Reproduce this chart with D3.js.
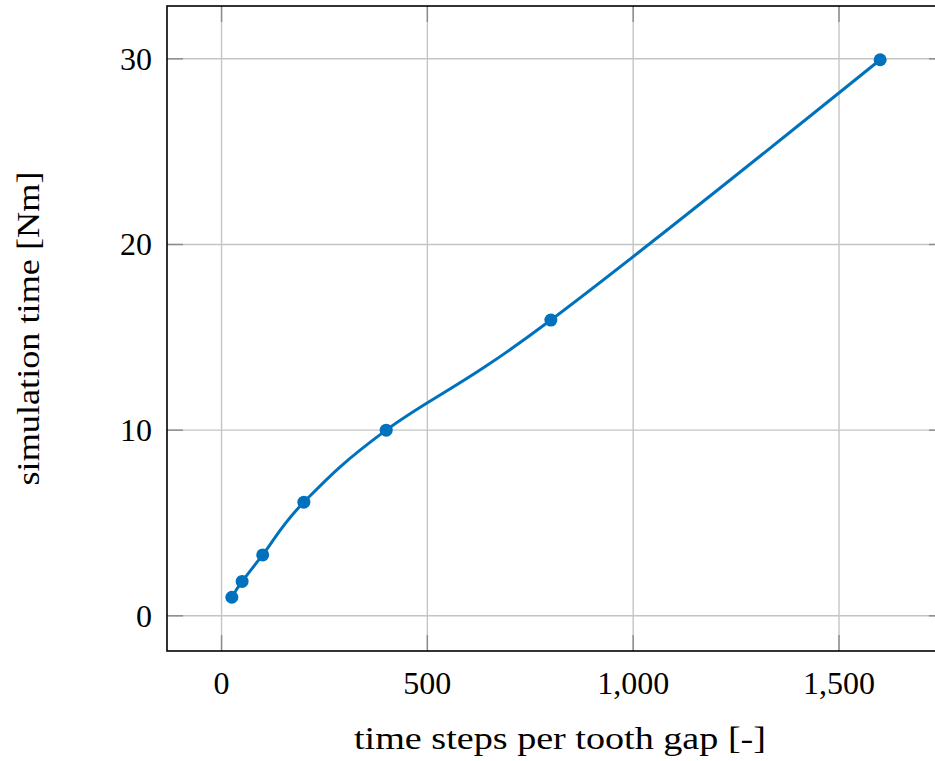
<!DOCTYPE html>
<html><head><meta charset="utf-8">
<script src="https://cdn.jsdelivr.net/npm/d3@7"></script>
<style>body{margin:0;background:#fff}svg{display:block}text{font-family:"Liberation Serif","DejaVu Serif",serif;fill:#000}</style>
</head><body><svg id="c" width="935" height="761"></svg>
<script>
const xValues = [25, 50, 100, 200, 400, 800, 1600];
const yValues = [1.0, 1.85, 3.28, 6.12, 10.0, 15.93, 29.95];
const xTicks = [0, 500, 1000, 1500];
const yTicks = [0, 10, 20, 30];
const xLabel = "time steps per tooth gap [-]";
const yLabel = "simulation time [Nm]";

const svg = d3.select("#c");
const L = 167, T = 6, R = 945, B = 651;
const xr = d3.extent(xValues), yr = d3.extent(yValues);
const xp = (xr[1]-xr[0])*0.1, yp = (yr[1]-yr[0])*0.1;
const x = d3.scaleLinear().domain([xr[0]-xp, xr[1]+xp]).range([L, R]);
const y = d3.scaleLinear().domain([yr[0]-yp, yr[1]+yp]).range([B, T]);

const g = svg.append("g");
// grid
g.selectAll(".gx").data(xTicks).join("line")
  .attr("x1", d=>x(d)).attr("x2", d=>x(d)).attr("y1", T).attr("y2", B)
  .attr("stroke", "#c4c4c4").attr("stroke-width", 1.4);
g.selectAll(".gy").data(yTicks).join("line")
  .attr("y1", d=>y(d)).attr("y2", d=>y(d)).attr("x1", L).attr("x2", R)
  .attr("stroke", "#c4c4c4").attr("stroke-width", 1.4);
// ticks (inside)
const tl = 16;
xTicks.forEach(d=>{
  g.append("line").attr("x1", x(d)).attr("x2", x(d)).attr("y1", B).attr("y2", B-tl).attr("stroke","#8a8a8a").attr("stroke-width",1.4);
  g.append("line").attr("x1", x(d)).attr("x2", x(d)).attr("y1", T).attr("y2", T+tl).attr("stroke","#8a8a8a").attr("stroke-width",1.4);
});
yTicks.forEach(d=>{
  g.append("line").attr("y1", y(d)).attr("y2", y(d)).attr("x1", L).attr("x2", L+tl).attr("stroke","#8a8a8a").attr("stroke-width",1.4);
  g.append("line").attr("y1", y(d)).attr("y2", y(d)).attr("x1", R).attr("x2", R-tl).attr("stroke","#8a8a8a").attr("stroke-width",1.4);
});
// frame
g.append("rect").attr("x", L).attr("y", T).attr("width", R-L).attr("height", B-T)
  .attr("fill","none").attr("stroke","#000").attr("stroke-width",1.6);

// tick labels
const fmt = d3.format(",");
g.selectAll(".xt").data(xTicks).join("text")
  .attr("x", d=>x(d)).attr("y", 694).attr("text-anchor","middle")
  .attr("font-size", 32).text(d=>fmt(d));
g.selectAll(".yt").data(yTicks).join("text")
  .attr("x", 152).attr("y", d=>y(d)+11).attr("text-anchor","end")
  .attr("font-size", 32).text(d=>fmt(d));

// axis labels
g.append("text").attr("x", (L+R)/2+4).attr("y", 749).attr("text-anchor","middle")
  .attr("font-size", 31).attr("textLength", 412).attr("lengthAdjust","spacingAndGlyphs").text(xLabel);
g.append("text").attr("transform", `translate(39,${(T+B)/2}) rotate(-90)`)
  .attr("text-anchor","middle").attr("font-size", 31).attr("textLength", 314).attr("lengthAdjust","spacingAndGlyphs").text(yLabel);

// data
const pts = xValues.map((d,i)=>[d, yValues[i]]);
const line = d3.line().x(d=>x(d[0])).y(d=>y(d[1])).curve(d3.curveCardinal.tension(-0.1));
g.append("path").attr("d", line(pts)).attr("fill","none").attr("stroke","#0072BD").attr("stroke-width",3);
g.selectAll(".pt").data(pts).join("circle")
  .attr("cx", d=>x(d[0])).attr("cy", d=>y(d[1])).attr("r", 6.5).attr("fill","#0072BD");
</script></body></html>
